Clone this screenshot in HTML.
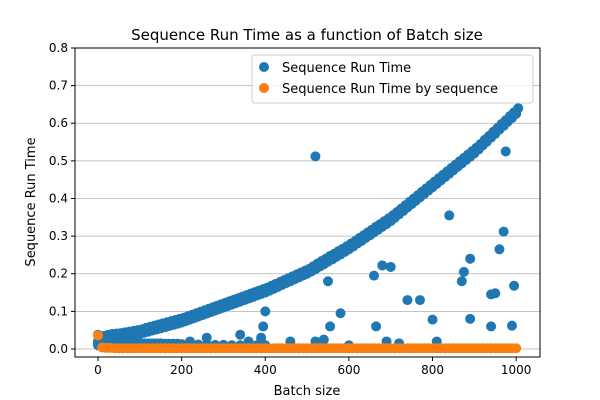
<!DOCTYPE html>
<html><head><meta charset="utf-8"><style>
html,body{margin:0;padding:0;background:#fff;}
svg{display:block;font-family:"DejaVu Sans","Liberation Sans",sans-serif;}
</style></head><body>
<svg id="chart" width="600" height="400"></svg>
<script>
const xCurve = [0,10,20,30,40,50,60,70,80,90,100,110,120,130,140,150,160,170,180,190,200,210,220,230,240,250,260,270,280,290,300,310,320,330,340,350,360,370,380,390,400,410,420,430,440,450,460,470,480,490,500,510,520,530,540,550,560,570,580,590,600,610,620,630,640,650,660,670,680,690,700,710,720,730,740,750,760,770,780,790,800,810,820,830,840,850,860,870,880,890,900,910,920,930,940,950,960,970,980,990,1000];
const yCurve = [.02,.022,.024,.026,.028,.030,.032,.034,.036,.038,.040,.043,.046,.049,.052,.055,.058,.061,.064,.067,.070,.074,.078,.082,.086,.090,.094,.098,.102,.106,.110,.114,.118,.122,.126,.130,.134,.138,.142,.146,.150,.155,.160,.165,.170,.175,.180,.185,.190,.195,.200,.206,.212,.219,.225,.232,.238,.245,.251,.258,.265,.272,.280,.287,.295,.302,.310,.317,.325,.332,.340,.349,.358,.367,.376,.385,.394,.403,.412,.421,.430,.439,.448,.457,.466,.475,.484,.493,.502,.511,.520,.530,.541,.551,.562,.572,.583,.593,.604,.614,.625];
const yCurveUpper = [.03,.035,.038,.04,.041,.042,.044,.046,.048,.05,.052,.056,.059,.062,.065,.068,.071,.074,.077,.08,.083,.087,.091,.095,.099,.103,.107,.111,.115,.119,.123,.127,.131,.135,.139,.143,.147,.151,.155,.159,.163,.168,.173,.178,.183,.188,.193,.198,.203,.208,.213,.22,.227,.234,.24,.247,.253,.26,.266,.273,.28,.287,.295,.302,.31,.317,.325,.332,.34,.347,.355,.364,.373,.382,.391,.4,.409,.418,.427,.436,.445,.454,.463,.472,.481,.49,.499,.508,.517,.526,.535,.545,.556,.566,.577,.587,.598,.608,.619,.629,.64];
const xOut = [520,550,540,555,580,600,660,665,680,700,690,720,740,770,800,810,840,870,875,890,890,940,950,940,960,970,975,990,995,340,360,390,395,400,390,220,260,460,520,0,0];
const yOut = [.512,.18,.025,.06,.095,.01,.195,.06,.222,.218,.02,.015,.13,.13,.078,.02,.355,.18,.205,.24,.08,.145,.148,.06,.265,.312,.525,.062,.168,.038,.02,.03,.06,.1,.02,.02,.03,.02,.02,.038,.01];
const xLow = [0,10,20,30,40,50,60,70,80,90,100,110,120,130,140,150,160,170,180,190,200,220,240,260,280,300,320,340,360,380,400];
const yLow = [.015,.016,.016,.017,.017,.017,.017,.016,.016,.016,.016,.015,.015,.015,.015,.015,.014,.014,.014,.014,.013,.013,.012,.012,.011,.011,.01,.01,.01,.01,.01];
const xOrange = [0,10,20,30,40,50,60,70,80,90,100,110,120,130,140,150,160,170,180,190,200,210,220,230,240,250,260,270,280,290,300,310,320,330,340,350,360,370,380,390,400,410,420,430,440,450,460,470,480,490,500,510,520,530,540,550,560,570,580,590,600,610,620,630,640,650,660,670,680,690,700,710,720,730,740,750,760,770,780,790,800,810,820,830,840,850,860,870,880,890,900,910,920,930,940,950,960,970,980,990,1000];
const yOrange = [.036,.004,.003,.003,.002,.002,.002,.002,.002,.002,.002,.002,.002,.002,.002,.002,.002,.002,.002,.002,.002,.002,.002,.002,.002,.002,.002,.002,.002,.002,.002,.002,.002,.002,.002,.002,.002,.002,.002,.002,.002,.002,.002,.002,.002,.002,.002,.002,.002,.002,.002,.002,.002,.002,.002,.002,.002,.002,.002,.002,.002,.002,.002,.002,.002,.002,.002,.002,.002,.002,.002,.002,.002,.002,.002,.002,.002,.002,.002,.002,.002,.002,.002,.002,.002,.002,.002,.002,.002,.002,.002,.002,.002,.002,.002,.002,.002,.002,.002,.002,.002];
const xTicks = [0,200,400,600,800,1000];
const yTicks = [0.0,0.1,0.2,0.3,0.4,0.5,0.6,0.7,0.8];

const L=75,R=540,T=48,B=357;
const xmin=-55,xmax=1057,ymin=-0.0213,ymax=0.8;
const RAD=5;
const sx=v=>L+(v-xmin)/(xmax-xmin)*(R-L);
const sy=v=>B-(v-ymin)/(ymax-ymin)*(B-T);
const svg=document.getElementById('chart');
const NS='http://www.w3.org/2000/svg';
function mk(tag,attrs,parent){const e=document.createElementNS(NS,tag);for(const k in attrs)e.setAttribute(k,attrs[k]);(parent||svg).appendChild(e);return e;}

const grid=mk('g',{});


yTicks.forEach(t=>{mk('line',{x1:L,x2:R,y1:sy(t),y2:sy(t),stroke:'#b0b0b0','stroke-width':0.8},grid);});

const blue=mk('g',{fill:'#1f77b4'});


xCurve.forEach((x,i)=>{mk('circle',{cx:sx(x),cy:sy(yCurve[i]),r:RAD},blue);mk('circle',{cx:sx(x+5),cy:sy(yCurveUpper[i]),r:RAD},blue);});
xLow.forEach((x,i)=>mk('circle',{cx:sx(x),cy:sy(yLow[i]),r:RAD},blue));
xOut.forEach((x,i)=>mk('circle',{cx:sx(x),cy:sy(yOut[i]),r:RAD},blue));

const orange=mk('g',{fill:'#ff7f0e'});


xOrange.forEach((x,i)=>mk('circle',{cx:sx(x),cy:sy(yOrange[i]),r:RAD},orange));

const frame=mk('rect',{x:L,y:T,width:R-L,height:B-T,fill:'none',stroke:'#000','stroke-width':1});



const xa=mk('g',{'font-size':12,'text-anchor':'middle'});


xTicks.forEach(t=>{mk('line',{x1:sx(t),x2:sx(t),y1:B,y2:B+4,stroke:'#000'},xa);const tx=mk('text',{x:sx(t),y:B+17},xa);tx.textContent=t;});
const ya=mk('g',{'font-size':12,'text-anchor':'end'});


yTicks.forEach(t=>{mk('line',{x1:L-4,x2:L,y1:sy(t),y2:sy(t),stroke:'#000'},ya);const tx=mk('text',{x:L-7,y:sy(t)+4},ya);tx.textContent=t.toFixed(1);});
</script>
<svg width="600" height="400" style="position:absolute;left:0;top:0">
<text x="307" y="40" font-size="15" text-anchor="middle" font-family="DejaVu Sans,Liberation Sans,sans-serif">Sequence Run Time as a function of Batch size</text>
<text x="307" y="395" font-size="13" text-anchor="middle" font-family="DejaVu Sans,Liberation Sans,sans-serif">Batch size</text>
<text transform="translate(35,202) rotate(-90)" font-size="13" text-anchor="middle" font-family="DejaVu Sans,Liberation Sans,sans-serif">Sequence Run Time</text>
<g>
<rect x="252" y="55" width="281" height="48" rx="3" fill="#fff" fill-opacity="0.8" stroke="#ccc"/>
<circle cx="264" cy="67" r="5" fill="#1f77b4"/>
<text x="282" y="72" font-size="13" font-family="DejaVu Sans,Liberation Sans,sans-serif">Sequence Run Time</text>
<circle cx="264" cy="88" r="5" fill="#ff7f0e"/>
<text x="282" y="93" font-size="13" font-family="DejaVu Sans,Liberation Sans,sans-serif">Sequence Run Time by sequence</text>
</g>
</svg>
</body></html>
